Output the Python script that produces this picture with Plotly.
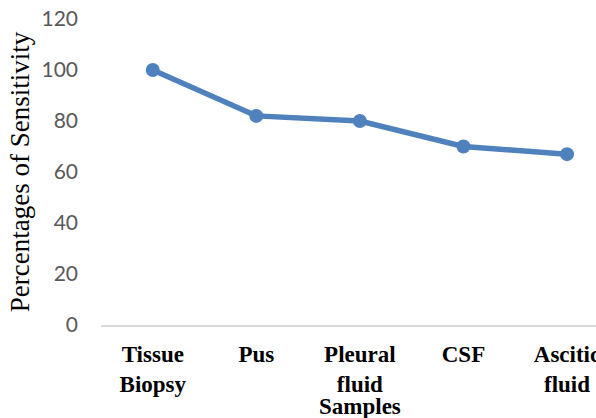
import plotly.graph_objects as go

# Sensitivity by specimen type
samples = ["Tissue<br>Biopsy", "Pus", "Pleural<br>fluid", "CSF", "Ascitic<br>fluid"]
sensitivity = [100, 82, 80, 70, 67]
y_ticks = [0, 20, 40, 60, 80, 100, 120]

fig = go.Figure()
fig.add_trace(go.Scatter(
    x=list(range(len(samples))),
    y=sensitivity,
    mode="lines+markers",
    line=dict(color="#4f81bd", width=5.5),
    marker=dict(color="#4f81bd", size=14),
    showlegend=False,
    hoverinfo="skip",
))

fig.update_layout(
    width=596,
    height=418,
    margin=dict(l=101, r=0, t=19, b=93),
    paper_bgcolor="white",
    plot_bgcolor="white",
)

fig.update_xaxes(
    range=[-0.5, 4.28],
    tickmode="array",
    tickvals=list(range(len(samples))),
    ticktext=samples,
    tickfont=dict(family="Liberation Serif", size=23, color="black", weight="bold"),
    ticks="",
    ticklabelstandoff=7,
    ticklabeloverflow="allow",
    showline=True,
    linecolor="#d9d9d9",
    linewidth=2,
    showgrid=False,
    zeroline=False,
    automargin=False,
)

fig.update_yaxes(
    range=[0, 120],
    tickmode="array",
    tickvals=y_ticks,
    tickfont=dict(family="Lato", size=21, color="#595959"),
    ticks="",
    ticklabelstandoff=22,
    showline=False,
    showgrid=False,
    zeroline=False,
    automargin=False,
    title=dict(
        text="Percentages of Sensitivity",
        font=dict(family="Liberation Serif", size=27, color="black"),
        standoff=4,
    ),
)

fig.add_annotation(
    text="Samples",
    xref="x",
    x=2,
    yref="paper",
    y=-0.265,
    yanchor="middle",
    showarrow=False,
    font=dict(family="Liberation Serif", size=23, color="black", weight="bold"),
)

fig.write_html("out.html")
